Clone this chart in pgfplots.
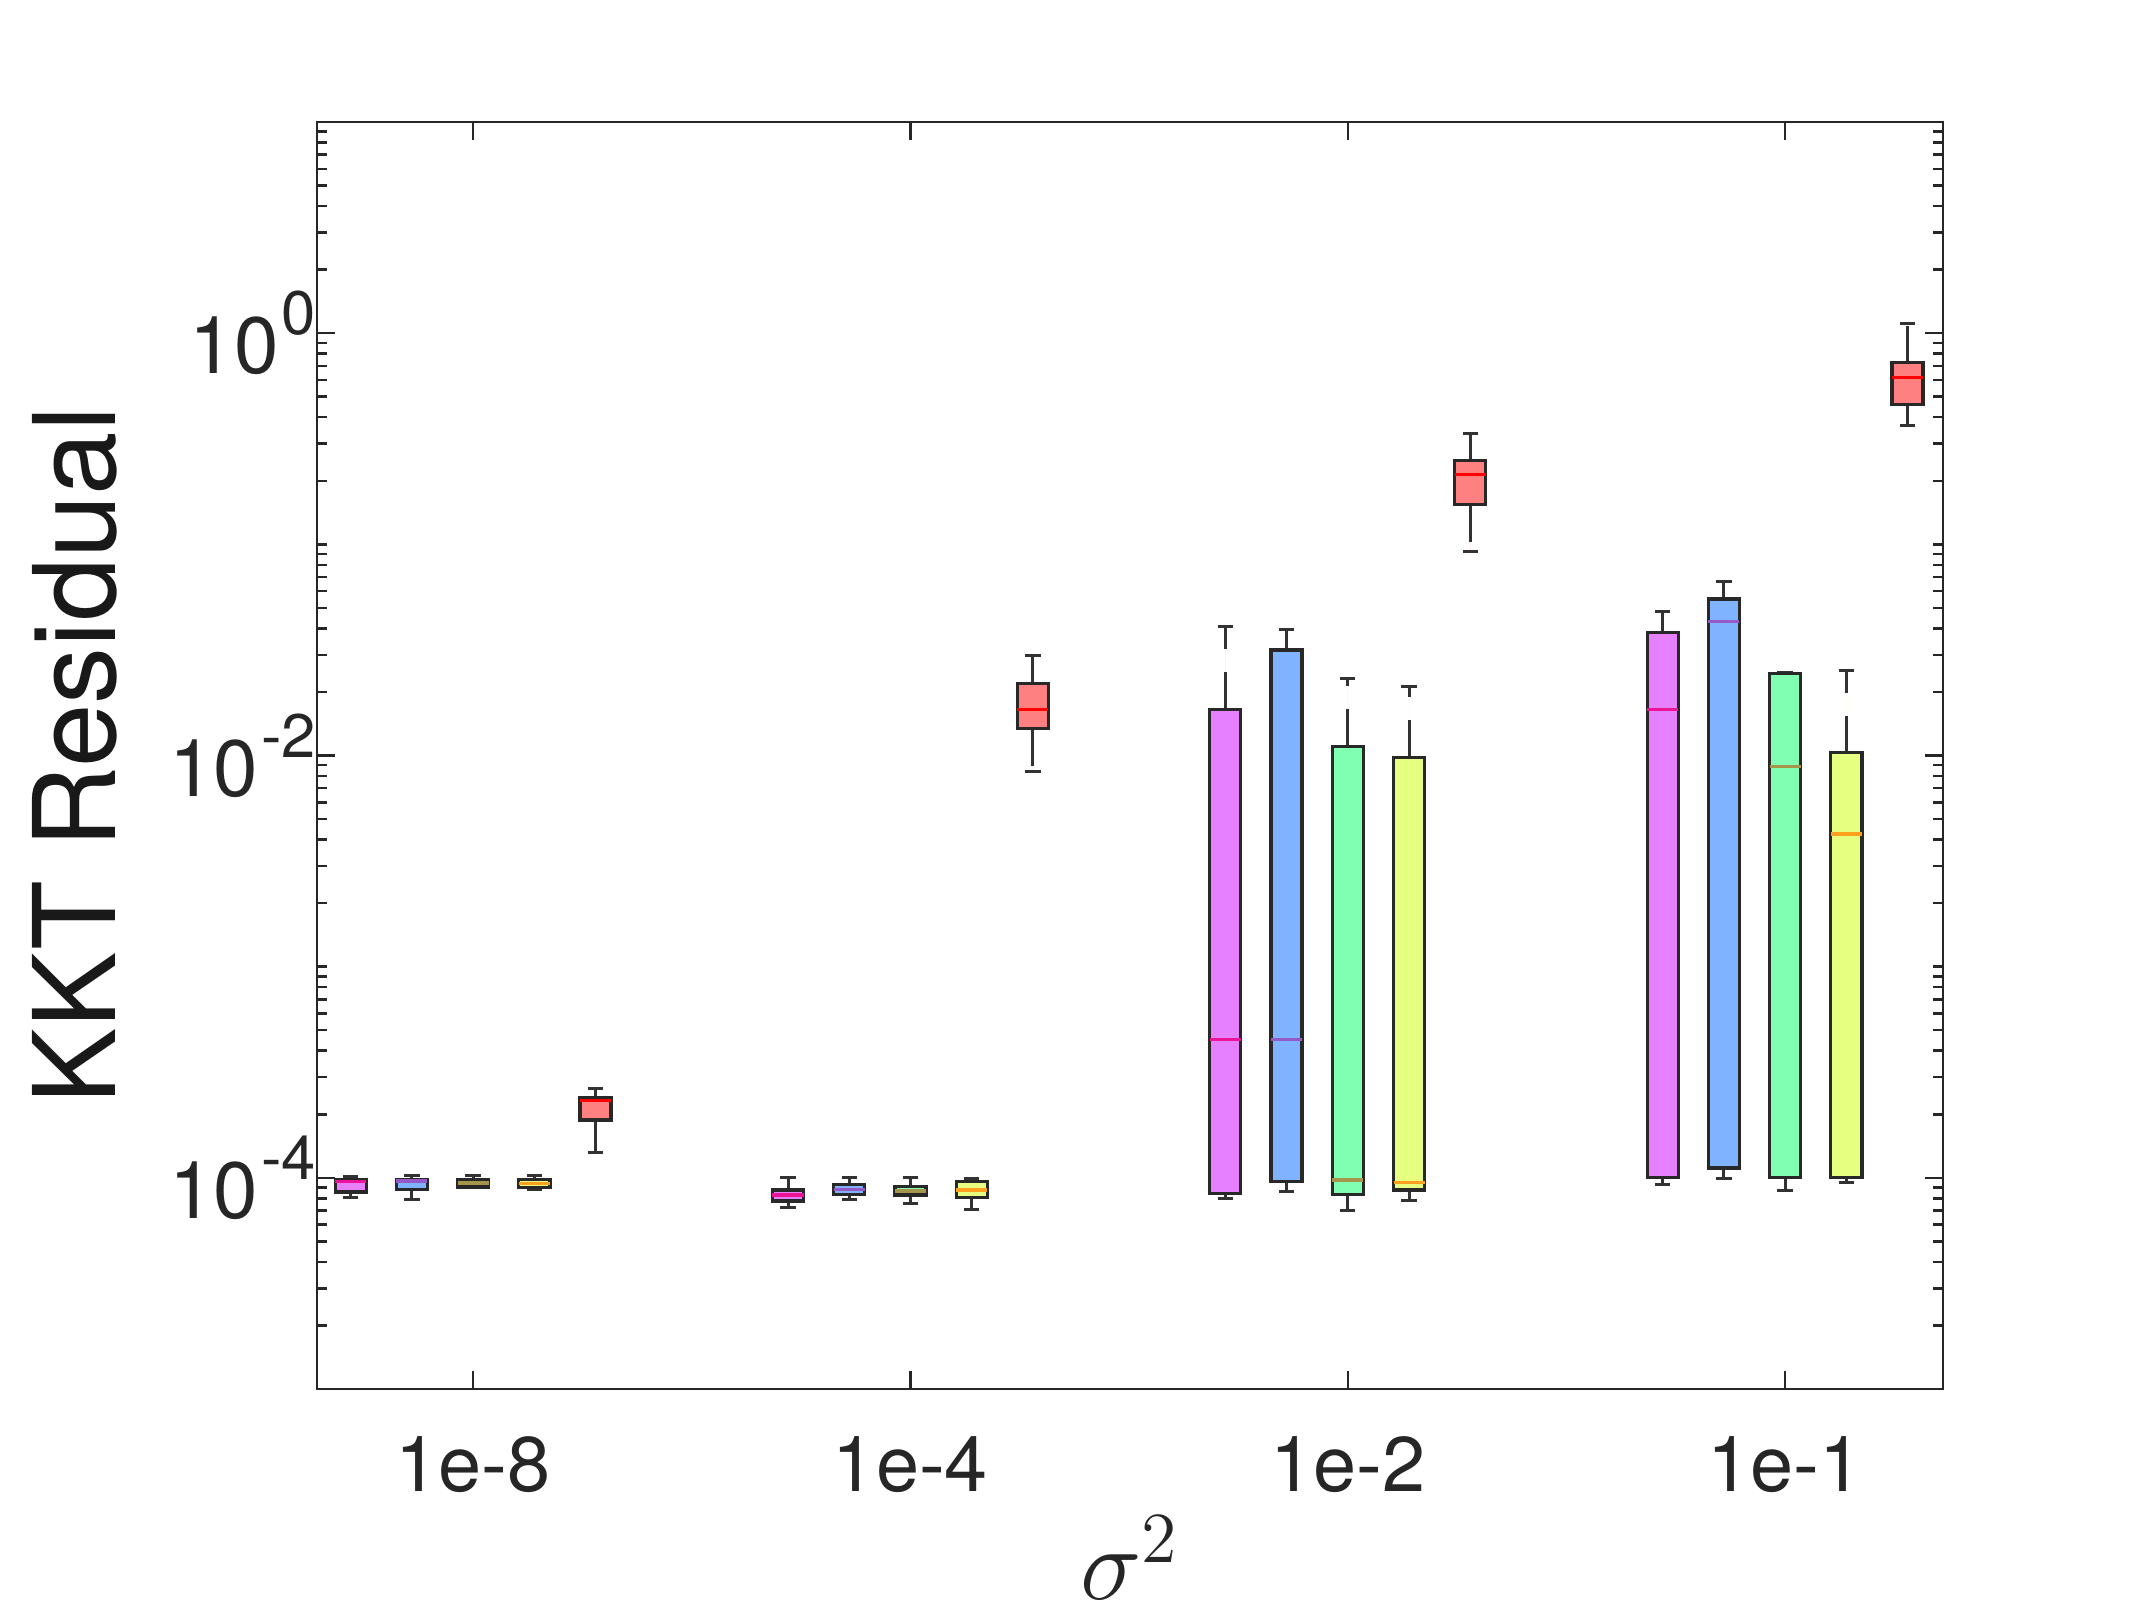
\documentclass[border=0pt]{standalone}
\usepackage{pgfplots}
\pgfplotsset{compat=1.18}
\usepgfplotslibrary{statistics}
\usetikzlibrary{calc}
\usepackage{fontspec}
\setmainfont{TeX Gyre Heros}
\definecolor{mfill}{RGB}{230,128,255}
\definecolor{bfill}{RGB}{128,179,255}
\definecolor{gfill}{RGB}{128,255,179}
\definecolor{yfill}{RGB}{230,255,128}
\definecolor{rfill}{RGB}{255,128,128}
\definecolor{mmed}{RGB}{235,20,150}
\definecolor{bmed}{RGB}{150,90,200}
\definecolor{gmed}{RGB}{165,150,75}
\definecolor{ymed}{RGB}{255,160,30}
\definecolor{rmed}{RGB}{255,0,0}
\definecolor{edge}{RGB}{40,40,40}
\definecolor{wcol}{RGB}{50,50,50}
\newcommand{\bx}[7]{\addplot[boxplot prepared={draw position=#1, lower whisker=#2, lower quartile=#3, median=#4, upper quartile=#5, upper whisker=#6}, fill=#7fill, draw=edge, line width=0.65pt, boxplot/every median/.style={draw=#7med, line width=0.7pt}] coordinates {};}
\newcommand{\tp}[1]{{\fontsize{16}{18}\selectfont 10}\kern0.6pt\raisebox{7.8pt}{\fontsize{12.3}{14}\selectfont #1}}
\begin{document}
\begin{tikzpicture}
\begin{axis}[
  name=ax,
  scale only axis,
  width=325.2pt, height=253.4pt,
  ymode=log,
  xmin=0.643, xmax=4.361,
  ymin=1e-5, ymax=10,
  axis line style={line width=0.5pt, draw=black!85},
  tick style={line width=0.5pt, draw=black!85},
  tick align=inside,
  xtick pos=both, ytick pos=both,
  major tick length=3.6pt, minor tick length=2pt,
  xtick={1,2,3,4},
  xticklabels={1e-8,1e-4,1e-2,1e-1},
  minor xtick={},
  ytick={1e-4,1e-2,1},
  yticklabels={\tp{-4},\tp{-2},\tp{0}},
  minor ytick={2e-5,3e-5,4e-5,5e-5,6e-5,7e-5,8e-5,9e-5,
    2e-4,3e-4,4e-4,5e-4,6e-4,7e-4,8e-4,9e-4,1e-3,
    2e-3,3e-3,4e-3,5e-3,6e-3,7e-3,8e-3,9e-3,
    2e-2,3e-2,4e-2,5e-2,6e-2,7e-2,8e-2,9e-2,1e-1,
    0.2,0.3,0.4,0.5,0.6,0.7,0.8,0.9,
    2,3,4,5,6,7,8,9},
  ticklabel style={font=\fontsize{15.5}{18}\selectfont, text=black!85},
  xticklabel style={anchor=base, inner sep=0pt, yshift=-20.4pt},
  yticklabel style={anchor=east, inner sep=0pt, xshift=0pt},
  xlabel={$\sigma^2$},
  xlabel style={font=\fontsize{21.5}{25}\selectfont, text=black!85, at={(axis description cs:0.5,-0.1665)}, anchor=base, inner sep=0pt},
  ylabel={KKT Residual},
  ylabel style={font=\fontsize{22.8}{27}\selectfont, text=black!90, at={(axis description cs:-0.149,0.5)}, anchor=center, rotate=0},
  boxplot/draw direction=y,
  boxplot/box extend=0.071,
  boxplot/whisker extend=0.035,
  boxplot/every whisker/.style={draw=wcol, line width=0.6pt, dash pattern=on 7.4pt off 4.6pt},
  boxplot/draw/lower whisker/.code={%
    \draw[/pgfplots/boxplot/every whisker/.try]
      (boxplot cs:\pgfplotsboxplotvalue{lower quartile}) -- (boxplot cs:\pgfplotsboxplotvalue{lower whisker});
    \draw[/pgfplots/boxplot/every whisker/.try, solid]
      (boxplot whisker cs:\pgfplotsboxplotvalue{lower whisker},0) -- (boxplot whisker cs:\pgfplotsboxplotvalue{lower whisker},1);
  },
  boxplot/draw/upper whisker/.code={%
    \draw[/pgfplots/boxplot/every whisker/.try]
      (boxplot cs:\pgfplotsboxplotvalue{upper quartile}) -- (boxplot cs:\pgfplotsboxplotvalue{upper whisker});
    \draw[/pgfplots/boxplot/every whisker/.try, solid]
      (boxplot whisker cs:\pgfplotsboxplotvalue{upper whisker},0) -- (boxplot whisker cs:\pgfplotsboxplotvalue{upper whisker},1);
  },
]
% group 1e-8
\bx{0.72}{8.05e-5}{8.57e-5}{9.59e-5}{9.77e-5}{1.012e-4}{m}
\bx{0.86}{7.87e-5}{8.83e-5}{9.66e-5}{9.86e-5}{1.023e-4}{b}
\bx{1.00}{8.99e-5}{9.06e-5}{9.44e-5}{9.77e-5}{1.023e-4}{g}
\bx{1.14}{8.85e-5}{8.97e-5}{9.40e-5}{9.86e-5}{1.023e-4}{y}
\bx{1.28}{1.315e-4}{1.879e-4}{2.323e-4}{2.404e-4}{2.649e-4}{r}
% group 1e-4
\bx{1.72}{7.23e-5}{7.78e-5}{8.28e-5}{8.77e-5}{1.0e-4}{m}
\bx{1.86}{7.93e-5}{8.36e-5}{8.83e-5}{9.33e-5}{1.0e-4}{b}
\bx{2.00}{7.59e-5}{8.30e-5}{8.67e-5}{9.10e-5}{1.0e-4}{g}
\bx{2.14}{7.05e-5}{8.07e-5}{8.77e-5}{9.57e-5}{9.93e-5}{y}
\bx{2.28}{8.41e-3}{1.340e-2}{1.656e-2}{2.193e-2}{2.985e-2}{r}
% group 1e-2
\bx{2.72}{7.98e-5}{8.45e-5}{4.508e-4}{1.656e-2}{4.07e-2}{m}
\bx{2.86}{8.57e-5}{9.57e-5}{4.53e-4}{3.162e-2}{3.97e-2}{b}
\bx{3.00}{6.97e-5}{8.36e-5}{9.75e-5}{1.107e-2}{2.312e-2}{g}
\bx{3.14}{7.85e-5}{8.77e-5}{9.51e-5}{9.82e-3}{2.118e-2}{y}
\bx{3.28}{9.25e-2}{0.1542}{0.2138}{0.2500}{0.335}{r}
% group 1e-1
\bx{3.72}{9.27e-5}{1.0e-4}{1.656e-2}{3.83e-2}{4.82e-2}{m}
\bx{3.86}{9.93e-5}{1.112e-4}{4.315e-2}{5.51e-2}{6.68e-2}{b}
\bx{4.00}{8.67e-5}{1.0e-4}{8.89e-3}{2.455e-2}{2.48e-2}{g}
\bx{4.14}{9.51e-5}{1.0e-4}{4.26e-3}{1.03e-2}{2.535e-2}{y}
\bx{4.28}{0.3648}{0.4603}{0.618}{0.7261}{1.107}{r}
\end{axis}
\pgfresetboundingbox
\path ($(ax.south west)+(-63.4pt,-45.6pt)$) rectangle ($(ax.north east)+(42.2pt,24.4pt)$);
\end{tikzpicture}
\end{document}
